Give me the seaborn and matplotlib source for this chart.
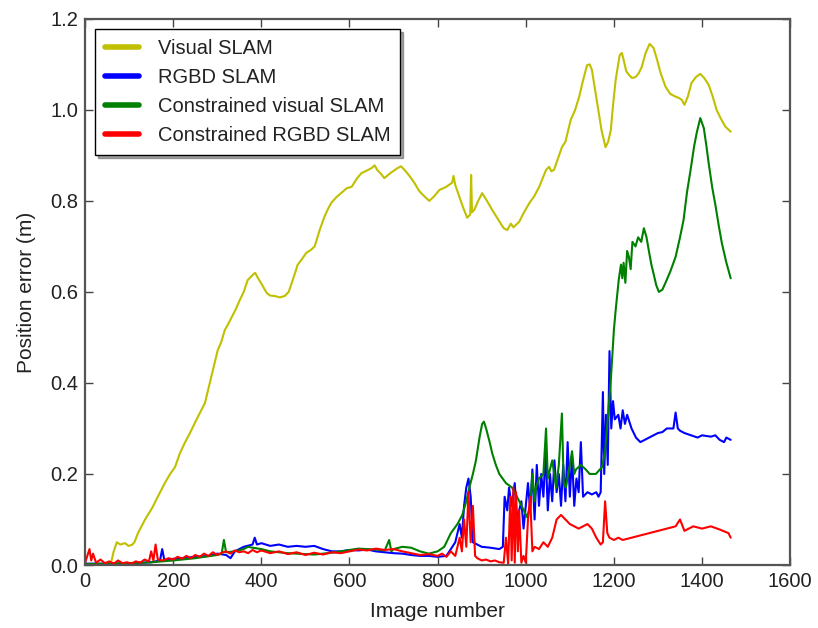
import matplotlib
matplotlib.use("Agg")
import matplotlib.pyplot as plt
import numpy as np
import pandas as pd
import seaborn as sns

series_names = ["Visual SLAM", "RGBD SLAM", "Constrained visual SLAM", "Constrained RGBD SLAM"]
series_colors = ["#c0c000", "#0000ff", "#008000", "#ff0000"]

visual_x = [59, 65, 72, 80, 91, 98, 106, 112, 120, 135, 152, 165, 181, 193, 204, 215, 226, 238, 249, 260, 272, 283, 292,
            301, 309, 317, 325, 333, 342, 351, 360, 369, 375, 380, 386, 392, 402, 412, 420, 430, 442, 453, 462, 469, 476,
            482, 492, 502, 512, 521, 532, 543, 551, 559, 570, 582, 594, 605, 616, 627, 638, 650, 657, 663, 671, 679, 694,
            709, 717, 725, 736, 747, 758, 770, 781, 792, 804, 818, 833, 836, 840, 849, 858, 867, 874, 876, 878, 883, 892,
            901, 912, 924, 940, 950, 958, 966, 972, 985, 996, 1008, 1019, 1030, 1046, 1053, 1058, 1064, 1072, 1082, 1090,
            1095, 1102, 1112, 1121, 1130, 1139, 1145, 1150, 1158, 1166, 1172, 1181, 1187, 1193, 1198, 1204, 1213, 1218,
            1222, 1228, 1234, 1241, 1249, 1256, 1263, 1272, 1281, 1290, 1298, 1306, 1317, 1328, 1340, 1348, 1354, 1360,
            1368, 1376, 1386, 1396, 1405, 1415, 1424, 1433, 1443, 1453, 1465]
visual_y = [0.005, 0.03, 0.05, 0.045, 0.048, 0.042, 0.044, 0.05, 0.07, 0.098, 0.125, 0.15, 0.18, 0.2, 0.215, 0.245,
            0.268, 0.29, 0.312, 0.333, 0.356, 0.4, 0.435, 0.472, 0.49, 0.516, 0.53, 0.545, 0.562, 0.582, 0.6, 0.626,
            0.632, 0.637, 0.642, 0.631, 0.615, 0.598, 0.592, 0.591, 0.588, 0.591, 0.6, 0.62, 0.64, 0.659, 0.672, 0.686,
            0.692, 0.7, 0.735, 0.765, 0.782, 0.796, 0.808, 0.818, 0.828, 0.831, 0.848, 0.861, 0.866, 0.872, 0.878, 0.868,
            0.86, 0.85, 0.862, 0.872, 0.876, 0.868, 0.855, 0.84, 0.822, 0.81, 0.8, 0.81, 0.824, 0.83, 0.84, 0.855, 0.835,
            0.81, 0.785, 0.763, 0.77, 0.857, 0.775, 0.78, 0.8, 0.817, 0.8, 0.78, 0.755, 0.74, 0.736, 0.75, 0.742, 0.754,
            0.775, 0.795, 0.81, 0.83, 0.868, 0.875, 0.865, 0.868, 0.89, 0.918, 0.93, 0.95, 0.978, 1.0, 1.028, 1.065,
            1.098, 1.1, 1.088, 1.04, 0.993, 0.955, 0.918, 0.93, 0.956, 1.01, 1.066, 1.12, 1.125, 1.11, 1.085, 1.077,
            1.07, 1.072, 1.08, 1.094, 1.125, 1.145, 1.136, 1.11, 1.081, 1.051, 1.035, 1.029, 1.026, 1.022, 1.011, 1.03,
            1.059, 1.072, 1.079, 1.07, 1.055, 1.03, 1.0, 0.98, 0.963, 0.952]

rgbd_x = [0, 50, 100, 150, 170, 175, 180, 200, 220, 250, 280, 300, 320, 330, 340, 360, 380, 385, 390, 400, 420, 440,
          460, 480, 500, 520, 540, 560, 580, 600, 620, 640, 660, 680, 700, 720, 740, 760, 780, 800, 820, 840, 850, 855,
          860, 865, 870, 875, 880, 890, 900, 920, 940, 948, 952, 958, 962, 968, 975, 980, 990, 995, 1000, 1005, 1010,
          1015, 1020, 1025, 1030, 1035, 1040, 1045, 1050, 1055, 1060, 1065, 1070, 1075, 1080, 1085, 1090, 1095, 1100,
          1105, 1110, 1115, 1120, 1125, 1130, 1140, 1150, 1160, 1165, 1170, 1175, 1178, 1182, 1186, 1190, 1194, 1198,
          1202, 1210, 1215, 1220, 1225, 1230, 1240, 1250, 1260, 1270, 1280, 1290, 1300, 1310, 1320, 1335, 1340, 1345,
          1350, 1360, 1375, 1390, 1400, 1420, 1430, 1440, 1450, 1455, 1465]
rgbd_y = [0.003, 0.003, 0.004, 0.006, 0.01, 0.035, 0.01, 0.012, 0.015, 0.018, 0.02, 0.025, 0.022, 0.015, 0.03, 0.04,
          0.045, 0.06, 0.045, 0.048, 0.042, 0.045, 0.04, 0.042, 0.04, 0.042, 0.035, 0.03, 0.03, 0.033, 0.032, 0.034,
          0.03, 0.028, 0.026, 0.025, 0.022, 0.02, 0.02, 0.018, 0.02, 0.05, 0.09, 0.06, 0.13, 0.17, 0.19, 0.15, 0.05,
          0.045, 0.04, 0.038, 0.035, 0.04, 0.15, 0.12, 0.17, 0.13, 0.18, 0.1, 0.14, 0.08, 0.13, 0.18, 0.12, 0.21, 0.1,
          0.22, 0.13, 0.2, 0.15, 0.25, 0.12, 0.2, 0.14, 0.23, 0.16, 0.2, 0.13, 0.22, 0.14, 0.27, 0.15, 0.24, 0.13, 0.19,
          0.16, 0.27, 0.15, 0.16, 0.155, 0.16, 0.15, 0.16, 0.38, 0.2, 0.33, 0.22, 0.47, 0.3, 0.36, 0.32, 0.33, 0.3,
          0.34, 0.31, 0.33, 0.3, 0.28, 0.27, 0.275, 0.28, 0.285, 0.29, 0.292, 0.3, 0.3, 0.335, 0.3, 0.295, 0.29, 0.285,
          0.28, 0.285, 0.282, 0.285, 0.275, 0.27, 0.28, 0.275]

cvis_x = [0, 50, 100, 150, 200, 250, 300, 310, 315, 320, 340, 360, 370, 380, 400, 420, 440, 460, 480, 500, 520, 540,
          560, 580, 600, 620, 640, 660, 680, 690, 695, 700, 720, 740, 760, 780, 800, 815, 830, 845, 856, 865, 872, 880,
          887, 895, 901, 905, 910, 918, 924, 932, 940, 955, 969, 980, 992, 1003, 1010, 1015, 1020, 1023, 1030, 1040,
          1046, 1050, 1060, 1069, 1075, 1082, 1086, 1091, 1100, 1105, 1110, 1114, 1125, 1136, 1145, 1159, 1173, 1180,
          1184, 1190, 1193, 1200, 1204, 1211, 1216, 1219, 1222, 1226, 1230, 1234, 1238, 1242, 1249, 1255, 1262, 1268,
          1274, 1279, 1285, 1290, 1296, 1302, 1310, 1317, 1328, 1340, 1350, 1358, 1366, 1374, 1382, 1388, 1396, 1404,
          1410, 1415, 1423, 1431, 1438, 1445, 1455, 1465]
cvis_y = [0.002, 0.003, 0.004, 0.006, 0.01, 0.015, 0.022, 0.025, 0.055, 0.028, 0.03, 0.035, 0.04, 0.038, 0.035, 0.03,
          0.028, 0.026, 0.025, 0.024, 0.023, 0.025, 0.027, 0.03, 0.033, 0.036, 0.035, 0.034, 0.032, 0.055, 0.03, 0.035,
          0.04, 0.038, 0.03, 0.025, 0.03, 0.04, 0.07, 0.09, 0.11, 0.14, 0.17, 0.2, 0.23, 0.28, 0.31, 0.315, 0.3, 0.27,
          0.245, 0.22, 0.2, 0.18, 0.17, 0.15, 0.127, 0.105, 0.13, 0.2, 0.14, 0.17, 0.19, 0.2, 0.3, 0.19, 0.23, 0.17,
          0.22, 0.333, 0.18, 0.17, 0.22, 0.25, 0.2, 0.21, 0.22, 0.21, 0.2, 0.2, 0.215, 0.25, 0.297, 0.37, 0.407, 0.517,
          0.56, 0.627, 0.66, 0.63, 0.664, 0.62, 0.69, 0.677, 0.65, 0.71, 0.7, 0.72, 0.71, 0.74, 0.72, 0.692, 0.66,
          0.64, 0.615, 0.6, 0.605, 0.62, 0.645, 0.677, 0.72, 0.758, 0.82, 0.868, 0.92, 0.95, 0.982, 0.96, 0.92, 0.883,
          0.83, 0.787, 0.745, 0.707, 0.665, 0.63]

crgbd_x = [0, 5, 10, 14, 18, 25, 35, 45, 55, 65, 75, 85, 95, 105, 115, 125, 135, 145, 150, 155, 160, 165, 175, 190,
           200, 210, 220, 230, 240, 250, 260, 270, 280, 290, 300, 310, 320, 330, 340, 350, 360, 370, 380, 390, 400, 420,
           440, 460, 480, 500, 520, 540, 560, 580, 600, 620, 640, 660, 680, 700, 720, 740, 760, 780, 800, 810, 820, 830,
           840, 850, 855, 860, 865, 870, 875, 880, 885, 890, 900, 910, 920, 930, 940, 950, 955, 960, 965, 968, 972, 975,
           978, 982, 985, 990, 995, 1000, 1005, 1010, 1015, 1020, 1030, 1040, 1050, 1060, 1070, 1080, 1090, 1100, 1110,
           1120, 1130, 1140, 1150, 1160, 1170, 1175, 1180, 1185, 1190, 1200, 1210, 1220, 1240, 1260, 1280, 1300, 1320,
           1340, 1350, 1360, 1380, 1400, 1420, 1440, 1460, 1465]
crgbd_y = [0.005, 0.02, 0.035, 0.01, 0.025, 0.005, 0.012, 0.004, 0.008, 0.003, 0.01, 0.004, 0.006, 0.003, 0.008, 0.005,
           0.012, 0.008, 0.03, 0.01, 0.045, 0.012, 0.01, 0.015, 0.012, 0.018, 0.014, 0.02, 0.015, 0.022, 0.018, 0.025,
           0.02, 0.028, 0.022, 0.027, 0.03, 0.025, 0.032, 0.028, 0.03, 0.026, 0.033, 0.028, 0.032, 0.026, 0.03, 0.024,
           0.028, 0.022, 0.027, 0.023, 0.028, 0.026, 0.03, 0.034, 0.032, 0.036, 0.033, 0.035, 0.03, 0.026, 0.022, 0.024,
           0.02, 0.025, 0.018, 0.03, 0.02, 0.06, 0.03, 0.1, 0.04, 0.16, 0.05, 0.13, 0.02, 0.015, 0.01, 0.012, 0.008,
           0.01, 0.006, 0.005, 0.06, 0.003, 0.15, 0.01, 0.17, 0.005, 0.16, 0.03, 0.12, 0.005, 0.02, 0.005, 0.1, 0.15,
           0.03, 0.04, 0.035, 0.05, 0.04, 0.06, 0.1, 0.11, 0.1, 0.09, 0.085, 0.08, 0.085, 0.09, 0.08, 0.06, 0.045, 0.05,
           0.14, 0.07, 0.06, 0.055, 0.06, 0.055, 0.06, 0.065, 0.07, 0.075, 0.08, 0.085, 0.1, 0.075, 0.085, 0.08, 0.085,
           0.078, 0.07, 0.06]

x_ticks = [0, 200, 400, 600, 800, 1000, 1200, 1400, 1600]
y_ticks = [0.0, 0.2, 0.4, 0.6, 0.8, 1.0, 1.2]

frames = []
for name, xs, ys in zip(series_names, [visual_x, rgbd_x, cvis_x, crgbd_x], [visual_y, rgbd_y, cvis_y, crgbd_y]):
    frames.append(pd.DataFrame({"Image number": xs, "Position error (m)": ys, "series": name}))
df = pd.concat(frames, ignore_index=True)

sns.set_style("ticks")
plt.rcParams["font.family"] = ["Liberation Sans", "DejaVu Sans"]
text_color = "#222222"

fig = plt.figure(figsize=(8.18, 6.28), dpi=100)
ax = fig.add_axes([0.104, 0.1003, 0.862, 0.8697])
sns.lineplot(data=df, x="Image number", y="Position error (m)", hue="series", hue_order=series_names,
             palette=dict(zip(series_names, series_colors)), estimator=None, sort=False, linewidth=1.5, ax=ax)

ax.set_xlim(0, 1600)
ax.set_ylim(0, 1.2)
ax.set_xticks(x_ticks)
ax.set_xticklabels([str(t) for t in x_ticks])
ax.set_yticks(y_ticks)
ax.set_yticklabels([f"{t:.1f}" for t in y_ticks])
ax.tick_params(direction="in", top=True, right=True, length=6, width=1, labelsize=14.5, pad=5,
               colors="#444444", labelcolor=text_color)
for s in ax.spines.values():
    s.set_linewidth(1.6)
    s.set_color("#555555")
ax.set_xlabel("Image number", fontsize=15, color=text_color, labelpad=8)
ax.set_ylabel("Position error (m)", fontsize=15, color=text_color, labelpad=10)

handles, labels = ax.get_legend_handles_labels()
leg = ax.legend(handles, labels, loc="upper left", frameon=True, shadow=True, fancybox=False, fontsize=14.5,
                borderaxespad=0.5, handlelength=1.7, handletextpad=0.9, labelspacing=0.5, borderpad=0.5,
                edgecolor="black", framealpha=1)
leg.get_frame().set_linewidth(1.0)
for line in leg.get_lines():
    line.set_linewidth(4)
for t in leg.get_texts():
    t.set_color(text_color)

fig.savefig("out.png", dpi=100)
